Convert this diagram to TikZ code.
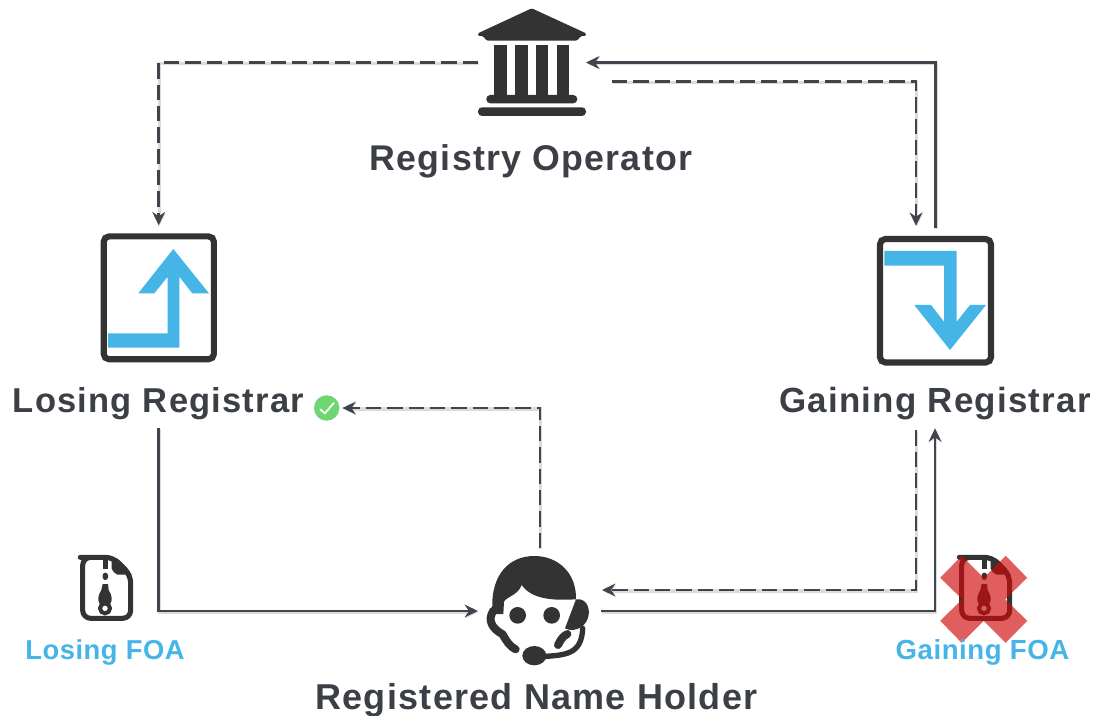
\documentclass[tikz,border=0pt]{standalone}
\usepackage{fontspec}
\setmainfont{Liberation Sans}
\newfontfamily\lblfont[LetterSpace=3.5]{Liberation Sans}
\newfontfamily\foafont[LetterSpace=2]{Liberation Sans}
\usetikzlibrary{arrows.meta}
\definecolor{ink}{HTML}{333333}
\definecolor{wire}{HTML}{3F454B}
\definecolor{txt}{HTML}{3C4046}
\definecolor{sky}{HTML}{45B5E8}
\definecolor{okgreen}{HTML}{6FD672}
\definecolor{xred}{RGB}{209,9,9}
\tikzset{
  iconbox/.style 2 args={rectangle,inner sep=0pt,outer sep=0pt,minimum width=#1*0.75pt,minimum height=#2*0.75pt},
  wirebase/.style={draw=wire,line width=2.1pt,-{Stealth[length=10pt,width=9.5pt]},
    preaction={draw=black!14,line width=2.4pt,transform canvas={xshift=.5pt,yshift=-.7pt}}},
  solidwire/.style={wirebase},
  dashwire/.style={wirebase,dash pattern=on 11.5pt off 4.5pt},
  biglabel/.style={inner sep=0pt,outer sep=0pt,text=txt,font=\lblfont\bfseries\fontsize{#1}{30}\selectfont},
  foalabel/.style={inner sep=0pt,outer sep=0pt,text=sky,font=\foafont\bfseries\fontsize{#1}{23}\selectfont},
  frame/.style={draw=ink,line width=4.6pt,rounded corners=4pt,fill=white},
  blue/.style={fill=sky,draw=none},
}
\newcommand{\zipicon}[1]{%
  \begin{scope}[shift={(#1,540)},x=.25pt,y=-.25pt]
    \draw[ink,line width=3.8pt,line join=round,fill=white,rounded corners=6pt] (85,52) -- (160,52) -- (212,105) -- (212,235) -- (68,235) -- (68,52) -- cycle;
    \fill[ink] (155,48) -- (216,104) -- (172,104) to[bend left=20] (155,86) -- cycle;
    \fill[ink] (128,60) rectangle (144,88);
    \fill[ink,rounded corners=2pt] (128,98) rectangle (144,120);
    \fill[ink] (128,132) -- (144,132) -- (146,150) .. controls (156,165) and (157,180) .. (152,190) -- (118,190) .. controls (113,180) and (114,165) .. (124,150) -- cycle;
    \draw[ink,line width=3pt,fill=white] (135,205) circle (15);
  \end{scope}}
\begin{document}
\begin{tikzpicture}[x=.75pt,y=-.75pt]
\useasboundingbox (0,0) rectangle (1095,716);
\fill[white] (0,0) rectangle (1095,716);

% bank
\node[iconbox={108}{107}] (operator) at (532,62.5) {};
\begin{scope}
  \fill[ink,rounded corners=1pt] (531.7,8.3) -- (586,33.3) -- (586,36) -- (581,36) -- (577,40.7) -- (486.7,40.7) -- (483,36) -- (478,36) -- (478,33.3) -- cycle;
  \fill[ink] (494.3,45.3) rectangle (507,96);
  \fill[ink] (515.3,45.3) rectangle (527.7,96);
  \fill[ink] (536.3,45.3) rectangle (548.3,96);
  \fill[ink] (557,45.3) rectangle (569.3,96);
  \fill[ink,rounded corners=3pt] (486.3,103.3) -- (486.3,95) -- (577.3,95) -- (577.3,103.3) -- cycle;
  \fill[ink,rounded corners=3pt] (478,116) -- (478,107.3) -- (586,107.3) -- (586,116) -- cycle;
\end{scope}
\node[biglabel=26.8] (operatorlabel) at (531,161) {Registry Operator};

% losing registrar
\node[iconbox={116}{129}] (losing) at (158.7,297.8) {};
\draw[frame] (103.7,236.4) rectangle (213.9,359.3);
\fill[blue] (108,333.3) -- (167.7,333.3) -- (167.7,276.7) -- (154.3,293.3) -- (138.3,293.3) -- (173.3,249) -- (209,293.3) -- (192.3,293.3) -- (179.3,276.7) -- (179.3,347.7) -- (108,347.7) -- cycle;
\node[biglabel=25.9] (losinglabel) at (158.5,404) {Losing Registrar};
\node[circle,fill=okgreen,inner sep=0pt,outer sep=0pt,minimum size=25.4*0.75pt] (okmark) at (326.7,408) {};
\draw[white,line width=1.3pt] (320,409.3) -- (325,413.3) -- (334,402.7);

% gaining registrar
\node[iconbox={117}{130}] (gaining) at (935.5,300.8) {};
\draw[frame] (880,239) rectangle (991,362.5);
\fill[blue] (884.3,251) -- (956.7,251) -- (956.7,321.7) -- (970,305) -- (986,305) -- (950,350) -- (914.3,305) -- (931,305) -- (944,321.7) -- (944,265.7) -- (884.3,265.7) -- cycle;
\node[biglabel=26.2] (gainlabel) at (935,404) {Gaining Registrar};

% name holder
\node[iconbox={103}{110}] (holder) at (538.5,611) {};
\begin{scope}[shift={(450,540)},x=.25pt,y=-.25pt]
  \fill[ink] (127,210) .. controls (122,100) and (180,48) .. (253,48) .. controls (325,48) and (380,100) .. (378,178)
     .. controls (330,180) and (250,185) .. (215,135) .. controls (205,165) and (170,170) .. (162,185) -- (160,222) -- (135,222) -- cycle;
  \draw[ink,line width=6pt,line cap=round,line join=round] (130,212) .. controls (112,240) and (125,265) .. (158,283) .. controls (170,305) and (180,320) .. (197,328);
  \fill[ink] (378,178) .. controls (432,170) and (432,272) .. (360,270) -- (345,265) -- cycle;
  \draw[ink,line width=6pt,line cap=round] (352,282) .. controls (335,290) and (330,305) .. (324,315);
  \draw[ink,line width=4pt,line cap=round] (398,265) .. controls (395,345) and (345,345) .. (275,350);
  \fill[ink] (253,347) ellipse (36 and 29);
  \fill[ink] (203,226) circle (25);
  \fill[ink] (305,226) circle (25);
\end{scope}
\node[biglabel=27] (holderlabel) at (536.5,700) {Registered Name Holder};

% FOA icons
\zipicon{60}
\node[iconbox={52}{65}] (losingzip) at (106.5,588) {};
\node[foalabel=20.5] (losingfoa) at (105,652) {Losing FOA};

\zipicon{939}
\node[iconbox={88}{88}] (gainzip) at (983.7,599.3) {};
\fill[xred,fill opacity=.65] (961.7,555.8) -- (983.7,577.8) -- (1005.7,555.8) -- (1027.2,577.8) -- (1005.2,599.3) -- (1027.2,620.8) -- (1005.7,642.8) -- (983.7,620.8) -- (961.7,642.8) -- (940.2,620.8) -- (962.2,599.3) -- (940.2,577.8) -- cycle;
\node[foalabel=20.7] (gainfoa) at (982.5,652) {Gaining FOA};

% connectors
\draw[dashwire] (operator.west) -| ([shift={(0,-8)}]losing.north);
\draw[solidwire] ([shift={(0,-8)}]gaining.north) |- (operator.east);
\draw[dashwire] ([shift={(26,19)}]operator.east) -| ([shift={(-19.5,-10)}]gaining.north);
\draw[solidwire] ([shift={(0,8)}]losinglabel.south) |- ([shift={(-9,0)}]holder.west);
\draw[dashwire] ([shift={(1.5,-8)}]holder.north) |- ([shift={(3,0)}]okmark.east);
\draw[solidwire] ([shift={(11,0)}]holder.east) -| ([shift={(0,8)}]gainlabel.south);
\draw[dashwire] ([shift={(-19,10)}]gainlabel.south) |- ([shift={(12,-21)}]holder.east);
\end{tikzpicture}
\end{document}
